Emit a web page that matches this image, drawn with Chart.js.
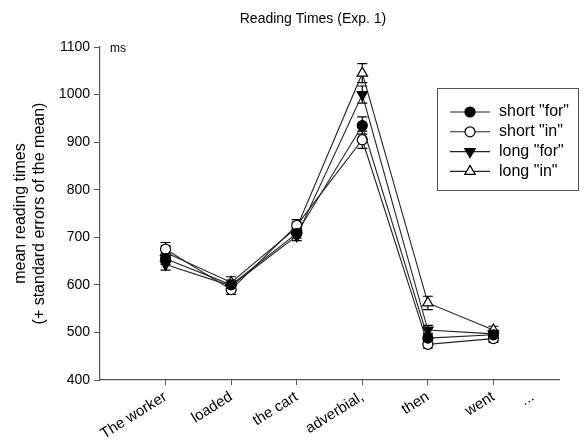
<!DOCTYPE html>
<html>
<head>
<meta charset="utf-8">
<script src="https://cdn.jsdelivr.net/npm/chart.js@4.4.1/dist/chart.umd.min.js"></script>
<style>
html,body{margin:0;padding:0;background:#fff;}
#wrap{width:586px;height:445px;position:relative;}
</style>
</head>
<body>
<div id="wrap"><canvas id="c" width="586" height="445"></canvas></div>
<script>
const categories = ["The worker", "loaded", "the cart", "adverbial,", "then", "went", "..."];
const categoryPositions = [0, 1, 2, 3, 4, 5, 5.6];
const seriesNames = ['short "for"', 'short "in"', 'long "for"', 'long "in"'];
const shortFor = [655, 600, 708, 935, 488, 495];
const shortIn  = [675, 590, 725, 905, 475, 487];
const longFor  = [643, 598, 703, 1000, 505, 497];
const longIn   = [668, 605, 720, 1045, 562, 505];
const shortForErr = [12, 10, 10, 18, 10, 8];
const shortInErr  = [14, 10, 12, 18, 8, 8];
const longForErr  = [12, 10, 10, 18, 10, 8];
const longInErr   = [14, 12, 12, 20, 14, 8];
const yTicks = [400, 500, 600, 700, 800, 900, 1000, 1100];

const FONT = "'Liberation Sans', Arial, sans-serif";
const styles = [
  {pointStyle:'circle', rotation:0, fill:'#000', radius:5},
  {pointStyle:'circle', rotation:0, fill:'#fff', radius:5},
  {pointStyle:'triangle', rotation:180, fill:'#000', radius:6},
  {pointStyle:'triangle', rotation:0, fill:'#fff', radius:6}
];
const values = [shortFor, shortIn, longFor, longIn];
const errs = [shortForErr, shortInErr, longForErr, longInErr];

const datasets = values.map((vals, i) => ({
  label: seriesNames[i],
  data: vals.map((v, j) => ({x: categoryPositions[j], y: v})),
  errors: errs[i],
  borderColor: '#222',
  borderWidth: 1.1,
  pointStyle: styles[i].pointStyle,
  rotation: styles[i].rotation,
  pointRadius: styles[i].radius,
  pointBackgroundColor: styles[i].fill,
  pointBorderColor: '#000',
  pointBorderWidth: 1.2,
  fill: false,
  tension: 0
}));

const errorBars = {
  id: 'errorBars',
  beforeDatasetsDraw(chart) {
    const ctx = chart.ctx, xs = chart.scales.x, ys = chart.scales.y;
    ctx.save();
    ctx.strokeStyle = '#000';
    ctx.lineWidth = 1.2;
    chart.data.datasets.forEach(ds => {
      ds.data.forEach((p, j) => {
        const e = ds.errors[j];
        const px = xs.getPixelForValue(p.x);
        const top = ys.getPixelForValue(p.y + e);
        const bot = ys.getPixelForValue(p.y - e);
        ctx.beginPath();
        ctx.moveTo(px, top); ctx.lineTo(px, bot);
        ctx.moveTo(px - 5, top); ctx.lineTo(px + 5, top);
        ctx.moveTo(px - 5, bot); ctx.lineTo(px + 5, bot);
        ctx.stroke();
      });
    });
    ctx.restore();
  }
};

const decorations = {
  id: 'decorations',
  afterDraw(chart) {
    const ctx = chart.ctx, area = chart.chartArea;
    ctx.save();
    ctx.fillStyle = '#000';
    // title
    ctx.font = '14px ' + FONT;
    ctx.textAlign = 'center';
    ctx.textBaseline = 'middle';
    ctx.fillText('Reading Times (Exp. 1)', 313, 19);
    // ms
    ctx.font = '12px ' + FONT;
    ctx.textAlign = 'left';
    ctx.fillText('ms', area.left + 10, area.top + 2);
    // y title
    ctx.save();
    ctx.translate(21, (area.top + area.bottom) / 2);
    ctx.rotate(-Math.PI / 2);
    ctx.textAlign = 'center';
    ctx.font = '16px ' + FONT;
    ctx.fillText('mean reading times', 0, 0);
    ctx.fillText('(+ standard errors of the mean)', 0, 19);
    ctx.restore();
    // legend
    const lx = 437, ly = 88, lw = 141, lh = 102;
    ctx.strokeStyle = '#555';
    ctx.lineWidth = 1;
    ctx.strokeRect(lx + 0.5, ly + 0.5, lw, lh);
    ctx.font = '16px ' + FONT;
    ctx.textBaseline = 'middle';
    seriesNames.forEach((name, i) => {
      const y = ly + 24 + i * 19.8;
      ctx.strokeStyle = '#222';
      ctx.lineWidth = 1.1;
      ctx.beginPath(); ctx.moveTo(lx + 13, y); ctx.lineTo(lx + 53, y); ctx.stroke();
      ctx.fillStyle = styles[i].fill;
      ctx.strokeStyle = '#000';
      ctx.lineWidth = 1.2;
      Chart.helpers.drawPoint(ctx, {pointStyle: styles[i].pointStyle, rotation: styles[i].rotation, radius: styles[i].radius, borderWidth: 1.2}, lx + 33, y);
      ctx.fillStyle = '#000';
      ctx.textAlign = 'left';
      ctx.fillText(name, lx + 62, y);
    });
    ctx.restore();
  }
};

new Chart(document.getElementById('c'), {
  type: 'line',
  data: { datasets },
  options: {
    responsive: false,
    animation: false,
    layout: { padding: { top: 47, right: 27, left: 0, bottom: 0 } },
    plugins: { legend: { display: false }, tooltip: { enabled: false } },
    scales: {
      x: {
        type: 'linear',
        min: -1, max: 6,
        afterBuildTicks(scale) { scale.ticks = categoryPositions.map(v => ({ value: v })); },
        afterFit(scale) { scale.height = 65; },
        ticks: {
          autoSkip: false,
          minRotation: 32, maxRotation: 32,
          color: '#000',
          font: { family: FONT, size: 15 },
          padding: 3,
          callback(value, index) { return categories[index]; }
        },
        grid: {
          drawOnChartArea: false,
          tickLength: 5,
          tickColor: (c) => (c.index === categoryPositions.length - 1 ? 'rgba(0,0,0,0)' : '#555')
        },
        border: { color: '#555', width: 1.2 }
      },
      y: {
        type: 'linear',
        min: 400, max: 1100,
        afterBuildTicks(scale) { scale.ticks = yTicks.map(v => ({ value: v })); },
        afterFit(scale) { scale.width = 100; },
        ticks: {
          color: '#000',
          font: { family: FONT, size: 14 },
          padding: 4,
          callback(value) { return String(value); }
        },
        grid: { drawOnChartArea: false, tickLength: 6, tickColor: '#555' },
        border: { color: '#555', width: 1.2 }
      }
    }
  },
  plugins: [errorBars, decorations]
});
</script>
</body>
</html>
